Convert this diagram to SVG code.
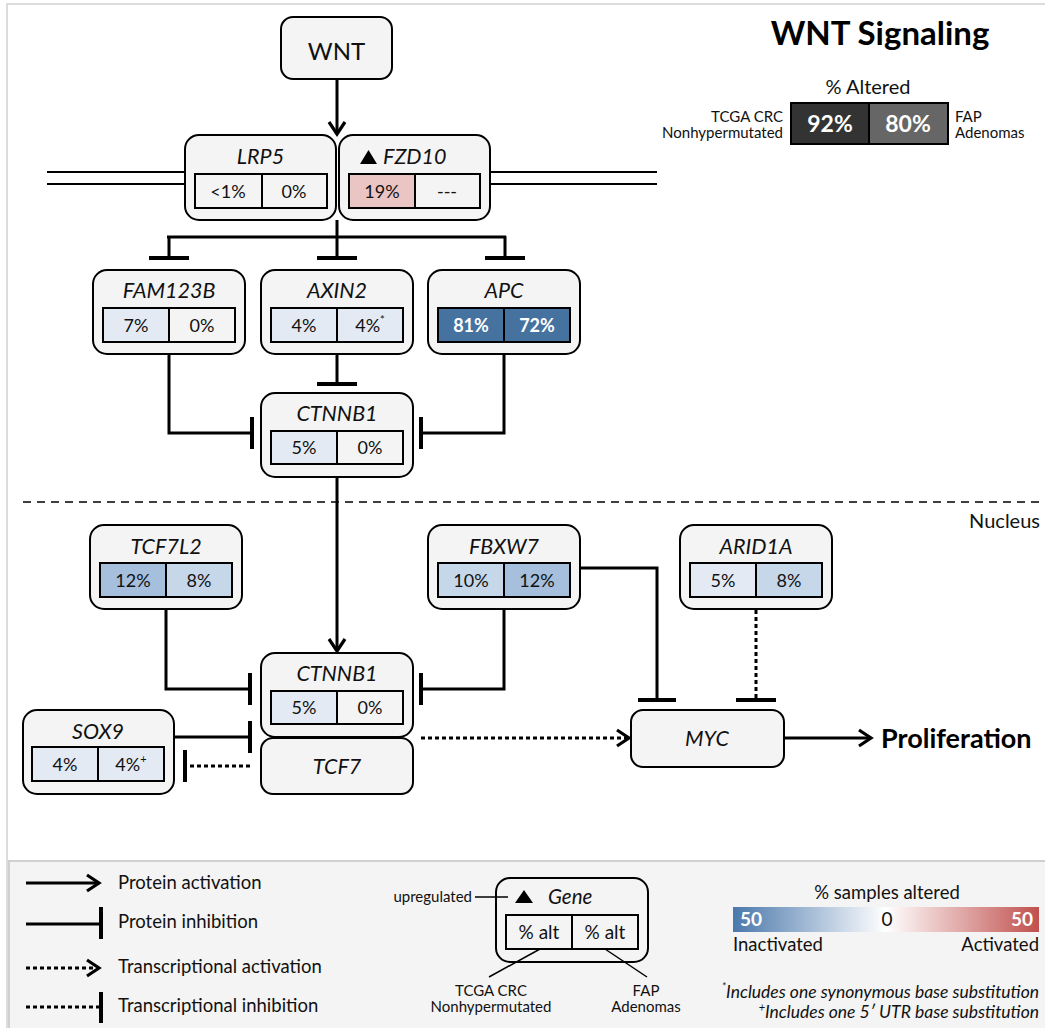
<svg xmlns="http://www.w3.org/2000/svg" width="1045" height="1028" viewBox="0 0 1045 1028">
<style>
text{font-family:Lato,"Liberation Sans",sans-serif;fill:#111}
.w{fill:#fff;font-weight:bold}
.box{fill:#f4f4f4;stroke:#000;stroke-width:2}
.cell{stroke:#000;stroke-width:2}
.n{fill:#f4f4f4}.b1{fill:#e3eaf3}.b2{fill:#c6d7ea}.b3{fill:#a5bfdc}.b4{fill:#45729f}.r1{fill:#ebc4c4}
.t{font-size:21.5px;font-style:italic;text-anchor:middle}
.v{font-size:18px;text-anchor:middle}
.vw{font-size:18px;text-anchor:middle;font-weight:bold;fill:#fff}
.ln{fill:none;stroke:#000;stroke-width:3}
.dot{fill:none;stroke:#000;stroke-width:3;stroke-dasharray:4 3}
.bar{stroke:#000;stroke-width:4}
.lg{font-size:18.5px}
.sm{font-size:15px}
</style>
<defs>
<marker id="act" markerUnits="userSpaceOnUse" viewBox="0 0 20 20" markerWidth="20" markerHeight="20" refX="16" refY="10" orient="auto">
<path d="M4,2 L16,10 L4,18" fill="none" stroke="#000" stroke-width="3.2"/>
</marker>
<linearGradient id="grad" x1="0" y1="0" x2="1" y2="0">
<stop offset="0" stop-color="#4a78ab"/>
<stop offset="0.5" stop-color="#ffffff"/>
<stop offset="1" stop-color="#c0504d"/>
</linearGradient>
</defs>
<rect x="0" y="0" width="1045" height="1028" fill="#fff"/>
<path d="M7,1028 V4 H1045" fill="none" stroke="#dcdcdc" stroke-width="2"/>

<!-- membrane -->
<g id="membrane" stroke="#000" stroke-width="2">
<line x1="47" y1="172" x2="185" y2="172"/><line x1="47" y1="184" x2="185" y2="184"/>
<line x1="490" y1="172" x2="657" y2="172"/><line x1="490" y1="184" x2="657" y2="184"/>
</g>
<line x1="23" y1="502" x2="1045" y2="502" stroke="#000" stroke-width="1.5" stroke-dasharray="8 6"/>
<text x="1040" y="528" font-size="20" text-anchor="end">Nucleus</text>

<!-- title -->
<g id="title">
<text x="880" y="45" font-size="33" font-weight="bold" text-anchor="middle" style="fill:#000">WNT Signaling</text>
<text x="868" y="94" font-size="20" text-anchor="middle">% Altered</text>
<rect x="791" y="103" width="78" height="41" fill="#333" stroke="#000" stroke-width="2"/>
<rect x="869" y="103" width="79" height="41" fill="#666" stroke="#000" stroke-width="2"/>
<text class="w" x="830" y="132" font-size="23" text-anchor="middle">92%</text>
<text class="w" x="908" y="132" font-size="23" text-anchor="middle">80%</text>
<text class="sm" x="783" y="122" text-anchor="end">TCGA  CRC</text>
<text class="sm" x="783" y="138" text-anchor="end">Nonhypermutated</text>
<text class="sm" x="955" y="122">FAP</text>
<text class="sm" x="955" y="138">Adenomas</text>
</g>

<!-- connectors -->
<g id="connectors">
<line class="ln" x1="337" y1="79" x2="337" y2="134" marker-end="url(#act)"/>
<path class="ln" d="M337,220 V237 M167,237 H506 M169,236 V258 M337,237 V258 M505,236 V258"/>
<path class="bar" d="M149,258 H189 M317,258 H357 M485,258 H525"/>
<path class="ln" d="M337,354 V384"/>
<path class="bar" d="M317,384 H357"/>
<path class="ln" d="M169,354 V433 H252"/>
<path class="bar" d="M252,417 V449"/>
<path class="ln" d="M504,354 V433 H421"/>
<path class="bar" d="M421,417 V449"/>
<line class="ln" x1="337" y1="477" x2="337" y2="651" marker-end="url(#act)"/>
<path class="ln" d="M166,609 V689 H250"/>
<path class="bar" d="M250,673 V705"/>
<path class="ln" d="M504,609 V689 H421"/>
<path class="bar" d="M421,673 V705"/>
<path class="ln" d="M580,568 H657 V700"/>
<path class="bar" d="M638,700 H676"/>
<path class="dot" d="M756,610 V698"/>
<path class="bar" d="M736,700 H776"/>
<path class="ln" d="M174,737 H250"/>
<path class="bar" d="M250,721 V753"/>
<path class="dot" d="M250,766 H188"/>
<path class="bar" d="M185,750 V782"/>
<line class="dot" x1="421" y1="738" x2="629" y2="738" marker-end="url(#act)"/>
<line class="ln" x1="784" y1="738" x2="871" y2="738" marker-end="url(#act)"/>
</g>
<text x="881" y="748" font-size="27" font-weight="bold" style="fill:#000">Proliferation</text>

<!-- nodes -->
<g id="WNT">
<rect class="box" x="281" y="17" width="111" height="62" rx="12"/>
<text x="336.5" y="60" font-size="24" text-anchor="middle">WNT</text>
</g>
<g id="LRP5">
<rect class="box" x="185" y="135" width="151" height="85" rx="14"/>
<text class="t" x="260.5" y="164">LRP5</text>
<rect class="cell n" x="195" y="174" width="67" height="34"/><rect class="cell n" x="262" y="174" width="65" height="34"/>
<text class="v" x="228" y="198">&lt;1%</text><text class="v" x="294" y="198">0%</text>
</g>
<g id="FZD10">
<rect class="box" x="339" y="135" width="151" height="85" rx="14"/>
<polygon points="360,164 368.5,150 377,164" fill="#000"/>
<text x="383" y="164" font-size="21.5" font-style="italic">FZD10</text>
<rect class="cell r1" x="349" y="174" width="66" height="34"/><rect class="cell n" x="415" y="174" width="65" height="34"/>
<text class="v" x="382" y="198">19%</text><text class="v" x="447" y="198">---</text>
</g>
<g id="FAM123B">
<rect class="box" x="93" y="270" width="152" height="84" rx="14"/>
<text class="t" x="169" y="298">FAM123B</text>
<rect class="cell b1" x="103" y="308" width="66" height="34"/><rect class="cell n" x="169" y="308" width="66" height="34"/>
<text class="v" x="136" y="332">7%</text><text class="v" x="202" y="332">0%</text>
</g>
<g id="AXIN2">
<rect class="box" x="261" y="270" width="152" height="84" rx="14"/>
<text class="t" x="337" y="298">AXIN2</text>
<rect class="cell b1" x="271" y="308" width="66" height="34"/><rect class="cell b1" x="337" y="308" width="66" height="34"/>
<text class="v" x="304" y="332">4%</text><text class="v" x="370" y="332">4%<tspan font-size="11" dy="-8">*</tspan></text>
</g>
<g id="APC">
<rect class="box" x="428" y="270" width="152" height="84" rx="14"/>
<text class="t" x="504" y="298">APC</text>
<rect class="cell b4" x="438" y="308" width="66" height="34"/><rect class="cell b4" x="504" y="308" width="66" height="34"/>
<text class="vw" x="471" y="332">81%</text><text class="vw" x="537" y="332">72%</text>
</g>
<g id="CTNNB1">
<rect class="box" x="261" y="393" width="152" height="84" rx="14"/>
<text class="t" x="337" y="421">CTNNB1</text>
<rect class="cell b1" x="271" y="431" width="66" height="33"/><rect class="cell n" x="337" y="431" width="66" height="33"/>
<text class="v" x="304" y="454">5%</text><text class="v" x="370" y="454">0%</text>
</g>
<g id="TCF7L2">
<rect class="box" x="90" y="525" width="152" height="84" rx="14"/>
<text class="t" x="166" y="554">TCF7L2</text>
<rect class="cell b3" x="100" y="563" width="66" height="34"/><rect class="cell b2" x="166" y="563" width="66" height="34"/>
<text class="v" x="133" y="587">12%</text><text class="v" x="199" y="587">8%</text>
</g>
<g id="FBXW7">
<rect class="box" x="428" y="525" width="152" height="84" rx="14"/>
<text class="t" x="504" y="554">FBXW7</text>
<rect class="cell b2" x="438" y="563" width="66" height="34"/><rect class="cell b3" x="504" y="563" width="66" height="34"/>
<text class="v" x="471" y="587">10%</text><text class="v" x="537" y="587">12%</text>
</g>
<g id="ARID1A">
<rect class="box" x="680" y="525" width="152" height="84" rx="14"/>
<text class="t" x="756" y="554">ARID1A</text>
<rect class="cell b1" x="690" y="563" width="66" height="34"/><rect class="cell b2" x="756" y="563" width="66" height="34"/>
<text class="v" x="723" y="587">5%</text><text class="v" x="789" y="587">8%</text>
</g>
<g id="CTNNB1-nucleus">
<rect class="box" x="261" y="653" width="152" height="84" rx="14"/>
<text class="t" x="337" y="681">CTNNB1</text>
<rect class="cell b1" x="271" y="691" width="66" height="33"/><rect class="cell n" x="337" y="691" width="66" height="33"/>
<text class="v" x="304" y="714">5%</text><text class="v" x="370" y="714">0%</text>
</g>
<g id="TCF7">
<rect class="box" x="261" y="738" width="152" height="56" rx="12"/>
<text class="t" x="337" y="774">TCF7</text>
</g>
<g id="SOX9">
<rect class="box" x="23" y="710" width="151" height="84" rx="14"/>
<text class="t" x="98" y="739">SOX9</text>
<rect class="cell b1" x="32" y="747" width="66" height="34"/><rect class="cell b1" x="98" y="747" width="66" height="34"/>
<text class="v" x="65" y="771">4%</text><text class="v" x="131" y="771">4%<tspan font-size="11" dy="-8">+</tspan></text>
</g>
<g id="MYC">
<rect class="box" x="631" y="710" width="153" height="57" rx="12"/>
<text class="t" x="707" y="746">MYC</text>
</g>

<!-- legend -->
<g id="legend">
<rect x="9" y="861" width="1040" height="170" fill="#f4f4f4" stroke="#d0d0d0" stroke-width="2"/>
<line class="ln" x1="26" y1="883" x2="99" y2="883" marker-end="url(#act)"/>
<text class="lg" x="118" y="889">Protein activation</text>
<path class="ln" d="M26,924 H101"/><path class="bar" d="M101,907 V939"/>
<text class="lg" x="118" y="928">Protein inhibition</text>
<line class="dot" x1="26" y1="968" x2="99" y2="968" marker-end="url(#act)"/>
<text class="lg" x="118" y="973">Transcriptional activation</text>
<path class="dot" d="M26,1007 H100"/><path class="bar" d="M101,992 V1023"/>
<text class="lg" x="118" y="1012">Transcriptional inhibition</text>

<rect x="496" y="878" width="152" height="84" rx="14" fill="none" stroke="#000" stroke-width="2"/>
<text class="sm" x="472" y="902" text-anchor="end">upregulated</text>
<line x1="475" y1="897" x2="508" y2="897" stroke="#000" stroke-width="1.5"/>
<polygon points="515,903 524,890 533,903" fill="#000"/>
<text x="548" y="904" font-size="20.5" font-style="italic">Gene</text>
<rect x="506" y="915" width="66" height="34" fill="none" stroke="#000" stroke-width="2"/>
<rect x="572" y="915" width="66" height="34" fill="none" stroke="#000" stroke-width="2"/>
<text x="539" y="939" font-size="19" text-anchor="middle">% alt</text><text x="605" y="939" font-size="19" text-anchor="middle">% alt</text>
<line x1="540" y1="949" x2="489" y2="977" stroke="#000" stroke-width="1.5"/>
<line x1="605" y1="949" x2="647" y2="977" stroke="#000" stroke-width="1.5"/>
<text class="sm" x="491" y="996" text-anchor="middle">TCGA CRC</text>
<text class="sm" x="491" y="1012" text-anchor="middle">Nonhypermutated</text>
<text class="sm" x="646" y="996" text-anchor="middle">FAP</text>
<text class="sm" x="646" y="1012" text-anchor="middle">Adenomas</text>

<text x="887" y="899" font-size="18.5" text-anchor="middle">% samples altered</text>
<rect x="733" y="907" width="306" height="25" fill="url(#grad)"/>
<text class="w" x="740" y="926" font-size="19">50</text>
<text x="887" y="926" font-size="19" text-anchor="middle">0</text>
<text class="w" x="1033" y="926" font-size="19" text-anchor="end">50</text>
<text x="733" y="951" font-size="18.5">Inactivated</text>
<text x="1039" y="951" font-size="18.5" text-anchor="end">Activated</text>
<text x="1039" y="998" font-size="17.5" font-style="italic" text-anchor="end"><tspan font-size="11" dy="-7">*</tspan><tspan dy="7">Includes one synonymous base substitution</tspan></text>
<text x="1039" y="1018" font-size="17.5" font-style="italic" text-anchor="end"><tspan font-size="11" dy="-7">+</tspan><tspan dy="7">Includes one 5′ UTR base substitution</tspan></text>
</g>
</svg>
